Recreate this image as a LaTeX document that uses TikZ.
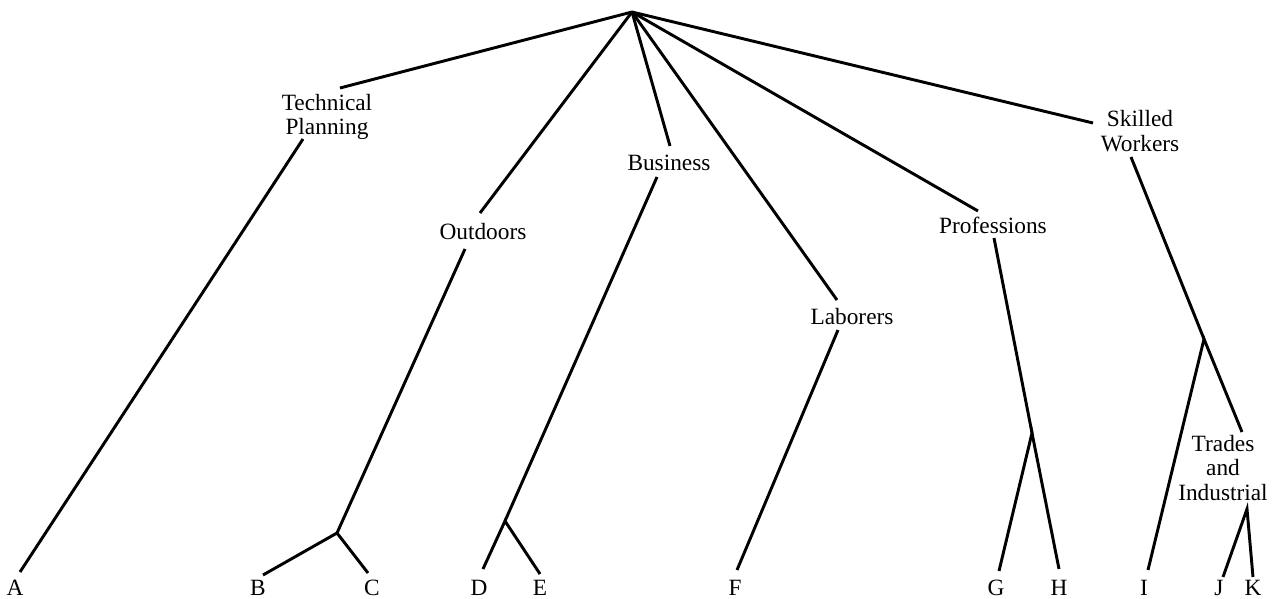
\documentclass[tikz,border=0pt]{standalone}
\usepackage{fontspec}
\setmainfont{Liberation Serif}
\begin{document}
\begin{tikzpicture}[x=0.75pt,y=-0.75pt,
  lbl/.style={inner sep=0pt,align=center,font=\fontsize{17.5}{18.3}\selectfont},
  leaf/.style={inner sep=0pt,anchor=base,font=\fontsize{17.5}{18.3}\selectfont},
  edge/.style={line width=2.2pt,line cap=butt,line join=miter}]
\useasboundingbox (0,0) rectangle (1275,599);
% apex and junctions
\coordinate (root) at (632,12);
\coordinate (jBC) at (337,533);
\coordinate (jDE) at (505,521);
\coordinate (jGH) at (1032,433);
\coordinate (jSW) at (1204,339);
\coordinate (jJK) at (1247,509);
% category labels
\node[lbl] (tp) at (327,117) {Technical\\Planning};
\node[lbl] (out) at (483,232) {Outdoors};
\node[lbl] (bus) at (669,163) {Business};
\node[lbl] (lab) at (852,317) {Laborers};
\node[lbl] (prof) at (993,225) {Professions};
\node[lbl] (sw) at (1140,131) {Skilled\\Workers};
\node[lbl] (ti) at (1223,468) {Trades\\and\\Industrial};
% connector ends near labels
\coordinate (tpT) at (340,88);  \coordinate (tpB) at (303,139);
\coordinate (outT) at (480,213); \coordinate (outB) at (465,249);
\coordinate (busT) at (670,146); \coordinate (busB) at (657,177);
\coordinate (labT) at (837,300); \coordinate (labB) at (838,330);
\coordinate (profT) at (978,211); \coordinate (profB) at (994,238);
\coordinate (swT) at (1093,123); \coordinate (swB) at (1131,157);
\coordinate (tiT) at (1242,432);
% leaf labels
\node[leaf] (A) at (15,595) {A};
\node[leaf] (B) at (258,595) {B};
\node[leaf] (C) at (372,595) {C};
\node[leaf] (D) at (479,595) {D};
\node[leaf] (E) at (540,595) {E};
\node[leaf] (F) at (735,595) {F};
\node[leaf] (G) at (996,595) {G};
\node[leaf] (H) at (1059,595) {H};
\node[leaf] (I) at (1144,595) {I};
\node[leaf] (J) at (1219,595) {J};
\node[leaf] (K) at (1253,595) {K};
% leaf line ends
\coordinate (Ae) at (20,572);
\coordinate (Be) at (263,575);
\coordinate (Ce) at (368,573);
\coordinate (De) at (483,569);
\coordinate (Ee) at (540,574);
\coordinate (Fe) at (737,570);
\coordinate (Ge) at (999,571);
\coordinate (He) at (1059,569);
\coordinate (Ie) at (1148,570);
\coordinate (Je) at (1223,577);
\coordinate (Ke) at (1253,577);
% edges
\draw[edge] (root) -- (tpT);
\draw[edge] (root) -- (outT);
\draw[edge] (root) -- (busT);
\draw[edge] (root) -- (labT);
\draw[edge] (root) -- (profT);
\draw[edge] (root) -- (swT);
\draw[edge] (tpB) -- (Ae);
\draw[edge] (outB) -- (jBC);
\draw[edge] (Be) -- (jBC) -- (Ce);
\draw[edge] (busB) -- (jDE);
\draw[edge] (De) -- (jDE) -- (Ee);
\draw[edge] (labB) -- (Fe);
\draw[edge] (profB) -- (jGH);
\draw[edge] (Ge) -- (jGH) -- (He);
\draw[edge] (swB) -- (jSW);
\draw[edge] (Ie) -- (jSW) -- (tiT);
\draw[edge] (Je) -- (jJK) -- (Ke);
\end{tikzpicture}
\end{document}
